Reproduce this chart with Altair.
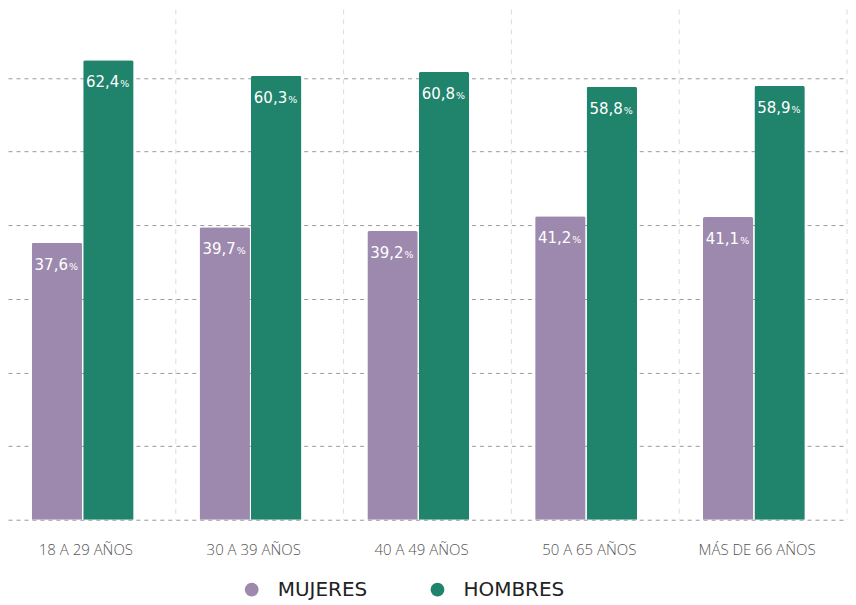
import altair as alt
import pandas as pd

categories = ["18 A 29 AÑOS", "30 A 39 AÑOS", "40 A 49 AÑOS", "50 A 65 AÑOS", "MÁS DE 66 AÑOS"]
series = ["MUJERES", "HOMBRES"]
mujeres = [37.6, 39.7, 39.2, 41.2, 41.1]
hombres = [62.4, 60.3, 60.8, 58.8, 58.9]
colors = ["#9E89AE", "#20836B"]
y_ticks = [0, 10, 20, 30, 40, 50, 60]

rows = []
for c, m, h in zip(categories, mujeres, hombres):
    rows.append({"cat": c, "serie": "MUJERES", "v": m})
    rows.append({"cat": c, "serie": "HOMBRES", "v": h})
df = pd.DataFrame(rows)
df_cats = pd.DataFrame({"cat": categories})

x_scale = alt.Scale(domain=categories, paddingInner=0, paddingOuter=0)
x_axis = alt.Axis(title=None, domain=False, ticks=False, grid=False,
                  labelFont="Open Sans", labelFontSize=15, labelColor="#555555",
                  labelFontWeight=300, labelPadding=23, labelAngle=0,
                  labelOffset=-6)
x_enc = alt.X("cat:N", sort=categories, scale=x_scale, axis=x_axis)
xo_enc = alt.XOffset("serie:N", sort=series,
                     scale=alt.Scale(paddingInner=0.02, paddingOuter=0.641, align=0.36))
y_enc = alt.Y("v:Q", scale=alt.Scale(domain=[0, 69.3], nice=False, zero=True),
              axis=alt.Axis(title=None, values=y_ticks, labels=False, ticks=False, domain=False,
                            grid=True, gridColor="#9a9a9a", gridDash=[4, 4], gridWidth=1))

vlines = alt.Chart(df_cats).mark_rule(color="#dcdcdc", strokeDash=[5, 5], strokeWidth=1).encode(
    x=alt.X("cat:N", sort=categories, scale=x_scale, bandPosition=1, axis=x_axis),
    y=alt.value(0),
    y2=alt.value(511),
)

base = alt.Chart(df)

bars = base.mark_bar(cornerRadiusTopLeft=2, cornerRadiusTopRight=2).encode(
    x=x_enc, xOffset=xo_enc, y=y_enc,
    color=alt.Color("serie:N", sort=series,
                    scale=alt.Scale(domain=series, range=colors),
                    legend=alt.Legend(title=None, orient="none", direction="horizontal",
                                      legendX=234, legendY=571, symbolType="circle",
                                      symbolSize=190, symbolStrokeWidth=0,
                                      labelFont="DejaVu Sans", labelFontSize=20,
                                      labelColor="#222222", labelOffset=16,
                                      columnPadding=60)),
)

nums = base.mark_text(align="right", baseline="alphabetic", dx=11, dy=27,
                      color="white", fontSize=15, font="DejaVu Sans").encode(
    x=x_enc, xOffset=xo_enc, y=y_enc,
    text=alt.Text("lab:N"),
).transform_calculate(lab="replace(format(datum.v, '.1f'), '.', ',')")

pct = base.mark_text(align="left", baseline="alphabetic", dx=12, dy=27,
                     color="white", fontSize=9.5, font="DejaVu Sans").encode(
    x=x_enc, xOffset=xo_enc, y=y_enc,
    text=alt.value("%"),
)

chart = alt.layer(vlines, bars, nums, pct).properties(
    width=840, height=511,
    padding={"left": 0, "top": 0, "right": 0, "bottom": 0},
).configure_view(stroke=None)

chart.save("out.html", embed_options={"renderer": "svg", "actions": False})
